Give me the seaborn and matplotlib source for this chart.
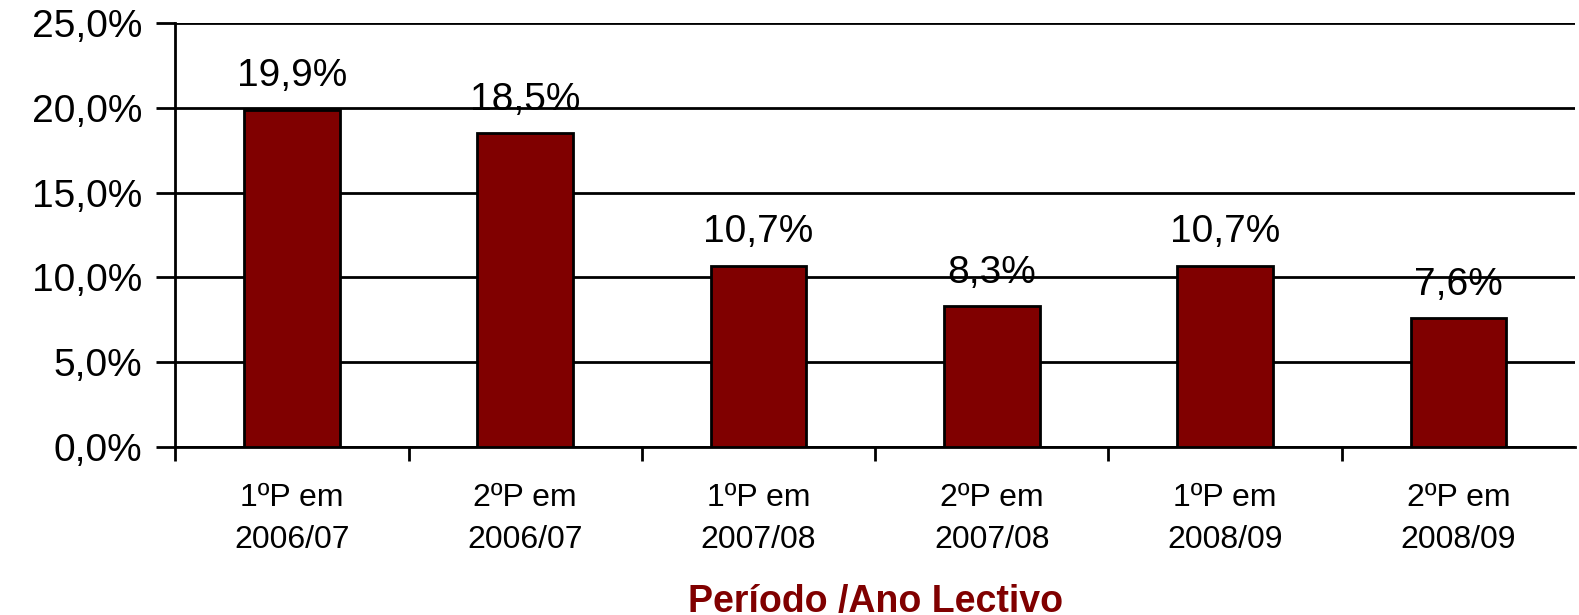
import pandas as pd
import seaborn as sns
import matplotlib.pyplot as plt
from matplotlib.ticker import FixedLocator, FuncFormatter

# data
periodos = ["1ºP em\n2006/07", "2ºP em\n2006/07", "1ºP em\n2007/08",
            "2ºP em\n2007/08", "1ºP em\n2008/09", "2ºP em\n2008/09"]
valores = [19.9, 18.5, 10.7, 8.3, 10.7, 7.6]
yticks = [0, 5, 10, 15, 20, 25]

df = pd.DataFrame({"periodo": periodos, "valor": valores})

sns.set_style("white")
plt.rcParams["font.family"] = ["Liberation Sans", "DejaVu Sans"]
plt.rcParams["text.color"] = "black"
plt.rcParams["xtick.color"] = "black"
plt.rcParams["ytick.color"] = "black"

fig = plt.figure(figsize=(15.79, 6.15), dpi=100)
ax = fig.add_axes([0.111, 0.273, 0.8865, 0.6896])

sns.barplot(data=df, x="periodo", y="valor", color="#800000", saturation=1,
            width=0.41, edgecolor="black", linewidth=2, ax=ax, zorder=3)

ax.set_ylim(0, 25)
ax.set_xlim(-0.5, 5.5)
ax.set_yticks(yticks)
ax.yaxis.set_major_formatter(FuncFormatter(lambda v, p: f"{v:.1f}%".replace(".", ",")))
ax.grid(axis="y", color="black", linewidth=2, zorder=0)
ax.set_axisbelow(True)

for s in ["top", "right"]:
    ax.spines[s].set_visible(False)
for s in ["left", "bottom"]:
    ax.spines[s].set_color("black")
    ax.spines[s].set_linewidth(2)

ax.tick_params(axis="y", left=True, length=14, width=2, color="black",
               labelsize=28, labelcolor="black", pad=10)
ax.tick_params(axis="x", which="major", bottom=False, length=0, labelsize=23,
               labelcolor="black", pad=26)
ax.xaxis.set_minor_locator(FixedLocator([i - 0.5 for i in range(6)]))
ax.tick_params(axis="x", which="minor", bottom=True, length=10, width=2,
               color="black", direction="out")
for lab in ax.get_xticklabels():
    lab.set_linespacing(1.5)

for i, v in enumerate(valores):
    ax.text(i, v + 0.9, f"{v:.1f}%".replace(".", ","), ha="center", va="bottom",
            fontsize=28, color="black", zorder=5)

ax.set_xlabel("Período /Ano Lectivo", fontsize=27, fontweight="bold",
              color="#800000", labelpad=21)
ax.set_ylabel("")

fig.savefig("out.png", dpi=100)
